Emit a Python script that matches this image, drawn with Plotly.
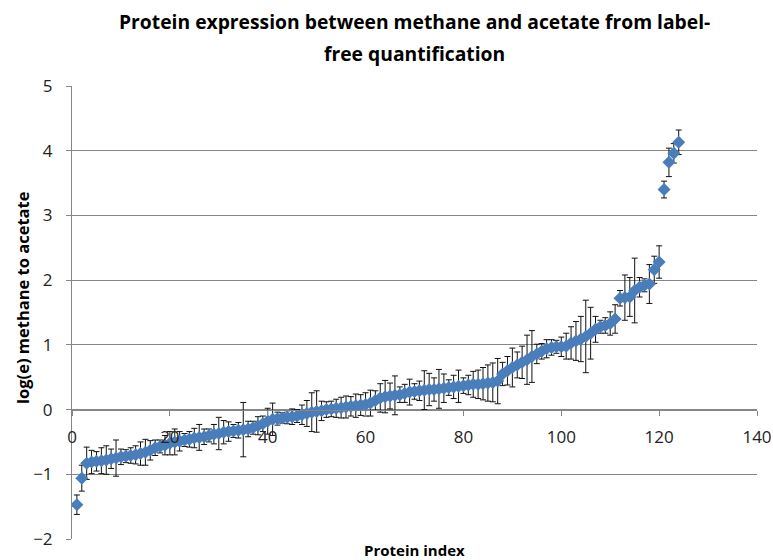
import plotly.graph_objects as go

protein_index = list(range(1, 125))

log_ratio = [
    -1.47, -1.06, -0.83, -0.81, -0.80, -0.79, -0.78, -0.76, -0.75, -0.73,
    -0.72, -0.71, -0.70, -0.68, -0.66, -0.63, -0.59, -0.57, -0.55, -0.52,
    -0.50, -0.49, -0.47, -0.46, -0.44, -0.43, -0.42, -0.40, -0.38, -0.37,
    -0.35, -0.34, -0.33, -0.32, -0.31, -0.30, -0.28, -0.25, -0.22, -0.18,
    -0.15, -0.14, -0.13, -0.12, -0.11, -0.10, -0.08, -0.06, -0.04, -0.03,
    -0.02, 0.00, 0.01, 0.02, 0.03, 0.04, 0.05, 0.06, 0.07, 0.08,
    0.10, 0.14, 0.18, 0.20, 0.21, 0.22, 0.23, 0.25, 0.27, 0.28,
    0.29, 0.30, 0.31, 0.31, 0.32, 0.33, 0.34, 0.35, 0.36, 0.37,
    0.38, 0.39, 0.39, 0.40, 0.41, 0.42, 0.44, 0.55, 0.60, 0.65,
    0.69, 0.73, 0.77, 0.82, 0.86, 0.90, 0.94, 0.96, 0.97, 0.97,
    0.98, 1.03, 1.06, 1.09, 1.13, 1.18, 1.24, 1.28, 1.30, 1.33,
    1.40, 1.72, 1.73, 1.74, 1.84, 1.89, 1.92, 1.94, 2.16, 2.28,
    3.40, 3.82, 3.96, 4.13,
]

error = [
    0.15, 0.20, 0.25, 0.18, 0.15, 0.20, 0.22, 0.15, 0.28, 0.12,
    0.10, 0.12, 0.14, 0.18, 0.20, 0.15, 0.12, 0.10, 0.15, 0.18,
    0.20, 0.15, 0.10, 0.12, 0.15, 0.20, 0.12, 0.10, 0.15, 0.25,
    0.18, 0.15, 0.10, 0.12, 0.42, 0.12, 0.10, 0.14, 0.12, 0.20,
    0.25, 0.10, 0.08, 0.10, 0.12, 0.10, 0.15, 0.20, 0.30, 0.32,
    0.15, 0.12, 0.12, 0.14, 0.16, 0.17, 0.15, 0.18, 0.16, 0.18,
    0.20, 0.15, 0.22, 0.25, 0.20, 0.30, 0.12, 0.14, 0.20, 0.12,
    0.15, 0.30, 0.25, 0.18, 0.30, 0.22, 0.12, 0.18, 0.25, 0.12,
    0.15, 0.20, 0.22, 0.25, 0.28, 0.30, 0.35, 0.18, 0.22, 0.30,
    0.20, 0.25, 0.38, 0.40, 0.15, 0.12, 0.14, 0.12, 0.10, 0.15,
    0.20, 0.25, 0.30, 0.35, 0.56, 0.40, 0.20, 0.10, 0.12, 0.18,
    0.22, 0.12, 0.35, 0.30, 0.50, 0.15, 0.10, 0.30, 0.21, 0.25,
    0.13, 0.22, 0.15, 0.19,
]

x_ticks = [0, 20, 40, 60, 80, 100, 120, 140]
y_ticks = [-2, -1, 0, 1, 2, 3, 4, 5]

W, H, L, R, T, B = 773, 560, 72, 16, 86, 21
PH = H - T - B
PW = W - L - R


def py(pixel_y):
    return (H - B - pixel_y) / PH


def px(pixel_x):
    return (pixel_x - L) / PW


fig = go.Figure()
fig.add_trace(go.Scatter(
    x=protein_index, y=log_ratio, mode="markers",
    marker=dict(symbol="diamond", size=10, color="#4A7EBB"),
    error_y=dict(type="data", array=error, visible=True,
                 color="#111111", thickness=1, width=3),
    showlegend=False,
))

fig.update_layout(
    width=W, height=H,
    margin=dict(l=L, r=R, t=T, b=B),
    paper_bgcolor="white", plot_bgcolor="white",
    font=dict(family="Open Sans", color="#222222"),
    xaxis=dict(
        range=[0, 140], tickvals=x_ticks, anchor="free", position=2/7,
        showline=True, linecolor="#868686", linewidth=1,
        showgrid=False, zeroline=False, automargin=False,
        ticks="outside", ticklen=5, tickcolor="#868686",
        tickfont=dict(size=17, color="#222222"),
        ticklabelstandoff=7,
    ),
    yaxis=dict(
        range=[-2, 5], tickvals=y_ticks,
        showline=True, linecolor="#868686", linewidth=1,
        showgrid=True, gridcolor="#868686", gridwidth=1, zeroline=False,
        automargin=False,
        ticks="outside", ticklen=5, tickcolor="#868686",
        tickfont=dict(size=17, color="#222222"),
        ticklabelstandoff=10,
    ),
    annotations=[
        dict(text="<b>Protein expression between methane and acetate from label-</b>",
             xref="paper", yref="paper", x=0.5, y=py(22),
             xanchor="center", yanchor="middle", showarrow=False,
             font=dict(size=19.3, color="#000000")),
        dict(text="<b>free quantification</b>",
             xref="paper", yref="paper", x=0.5, y=py(53),
             xanchor="center", yanchor="middle", showarrow=False,
             font=dict(size=19.3, color="#000000")),
        dict(text="<b>log(e) methane to acetate</b>",
             xref="paper", yref="paper", x=px(22), y=py(298),
             xanchor="center", yanchor="middle", showarrow=False, textangle=-90,
             font=dict(size=16.5, color="#000000")),
        dict(text="<b>Protein index</b>",
             xref="paper", yref="paper", x=px(414), y=py(550),
             xanchor="center", yanchor="middle", showarrow=False,
             font=dict(size=15, color="#000000")),
    ],
)

fig.write_html("out.html")
